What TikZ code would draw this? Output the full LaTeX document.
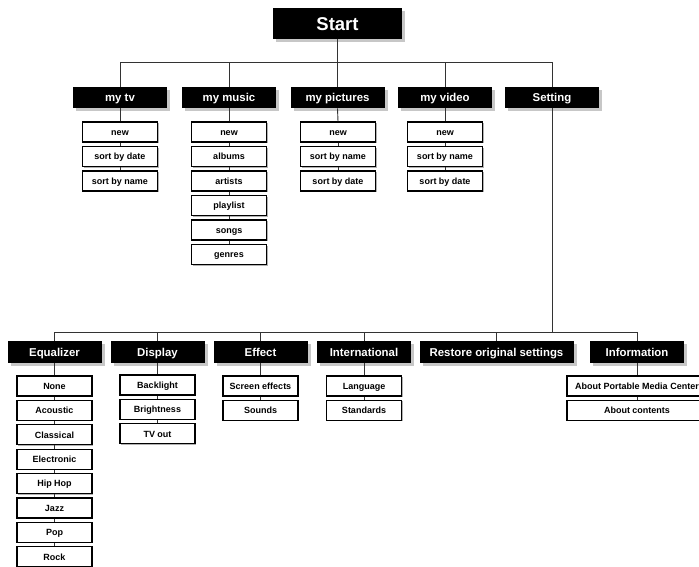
\documentclass[tikz,border=0pt]{standalone}
\usepackage{fontspec}
\setmainfont{Liberation Sans}
\usetikzlibrary{shadows}
\begin{document}
\begin{tikzpicture}[x=1pt,y=-1pt,
  head/.style={fill=black,text=white,inner sep=0pt,minimum width=94pt,minimum height=21.5pt,
    font=\fontsize{11.4}{12}\selectfont\bfseries,text height=8.2pt,text depth=0pt,
    drop shadow={shadow xshift=3pt,shadow yshift=-3pt,fill=black!22,opacity=1}},
  item/.style={draw=black,line width=1.1pt,fill=white,inner sep=0pt,minimum width=75pt,minimum height=20pt,
    font=\fontsize{9}{10}\selectfont\bfseries,text height=6.5pt,text depth=0pt,
    drop shadow={shadow xshift=1pt,shadow yshift=-1pt,fill=black!30,opacity=1}},
  link/.style={draw=black!80,line width=0.9pt}]
\useasboundingbox (0,0) rectangle (699,566);

% root
\node[head,minimum width=129pt,minimum height=31pt,font=\fontsize{18.5}{20}\selectfont\bfseries,
  text height=13.3pt,text depth=0pt] (start) at (337.5,23.5) {Start};
\coordinate (hub) at (337.5,62);

% top level
\node[head] (tv) at (120,97.5) {my tv};
\node[head] (music) at (229,97.5) {my music};
\node[head] (pics) at (337.5,97.5) {my pictures};
\node[head] (video) at (445,97.5) {my video};
\node[head] (set) at (552,97.5) {Setting};

% my tv
\node[item] (tv1) at (120,132) {new};
\node[item] (tv2) at (120,156.5) {sort by date};
\node[item] (tv3) at (120,181) {sort by name};
% my music
\node[item] (mu1) at (229,132) {new};
\node[item] (mu2) at (229,156.5) {albums};
\node[item] (mu3) at (229,181) {artists};
\node[item] (mu4) at (229,205.5) {playlist};
\node[item] (mu5) at (229,230) {songs};
\node[item] (mu6) at (229,254.5) {genres};
% my pictures
\node[item] (pi1) at (338,132) {new};
\node[item] (pi2) at (338,156.5) {sort by name};
\node[item] (pi3) at (338,181) {sort by date};
% my video
\node[item] (vi1) at (445,132) {new};
\node[item] (vi2) at (445,156.5) {sort by name};
\node[item] (vi3) at (445,181) {sort by date};

% settings level
\coordinate (hubb) at (552,332);
\node[head] (eq) at (54.5,352) {Equalizer};
\node[head] (disp) at (157.5,352) {Display};
\node[head] (eff) at (260.5,352) {Effect};
\node[head] (intl) at (364,352) {International};
\node[head,minimum width=154pt] (rest) at (496.5,352) {Restore original settings};
\node[head] (info) at (637,352) {Information};

% equalizer
\node[item] (eq1) at (54.5,386) {None};
\node[item] (eq2) at (54.5,410.4) {Acoustic};
\node[item] (eq3) at (54.5,434.8) {Classical};
\node[item] (eq4) at (54.5,459.2) {Electronic};
\node[item] (eq5) at (54.5,483.6) {Hip Hop};
\node[item] (eq6) at (54.5,508) {Jazz};
\node[item] (eq7) at (54.5,532.4) {Pop};
\node[item] (eq8) at (54.5,556.8) {Rock};
% display
\node[item] (di1) at (157.5,385) {Backlight};
\node[item] (di2) at (157.5,409.4) {Brightness};
\node[item] (di3) at (157.5,433.8) {TV out};
% effect
\node[item] (ef1) at (260.5,386) {Screen effects};
\node[item] (ef2) at (260.5,410.4) {Sounds};
% international
\node[item] (in1) at (364,386) {Language};
\node[item] (in2) at (364,410.4) {Standards};
% information
\node[item,minimum width=140pt] (if1) at (637,386) {About Portable Media Center};
\node[item,minimum width=140pt] (if2) at (637,410.4) {About contents};

% connectors, upper tree
\draw[link] (start.south) -- (hub);
\draw[link] (tv.north) |- (hub);
\draw[link] (music.north) |- (hub);
\draw[link] (pics.north) |- (hub);
\draw[link] (video.north) |- (hub);
\draw[link] (set.north) |- (hub);
\draw[link] (tv.south) -- (tv1.north);
\draw[link] (tv1.south) -- (tv2.north);
\draw[link] (tv2.south) -- (tv3.north);
\draw[link] (music.south) -- (mu1.north);
\draw[link] (mu1.south) -- (mu2.north);
\draw[link] (mu2.south) -- (mu3.north);
\draw[link] (mu3.south) -- (mu4.north);
\draw[link] (mu4.south) -- (mu5.north);
\draw[link] (mu5.south) -- (mu6.north);
\draw[link] (pics.south) -- (pi1.north);
\draw[link] (pi1.south) -- (pi2.north);
\draw[link] (pi2.south) -- (pi3.north);
\draw[link] (video.south) -- (vi1.north);
\draw[link] (vi1.south) -- (vi2.north);
\draw[link] (vi2.south) -- (vi3.north);

% connectors, lower tree
\draw[link] (set.south) -- (hubb);
\draw[link] (eq.north) |- (hubb);
\draw[link] (disp.north) |- (hubb);
\draw[link] (eff.north) |- (hubb);
\draw[link] (intl.north) |- (hubb);
\draw[link] (rest.north) |- (hubb);
\draw[link] (info.north) |- (hubb);
\draw[link] (eq.south) -- (eq1.north);
\draw[link] (eq1.south) -- (eq2.north);
\draw[link] (eq2.south) -- (eq3.north);
\draw[link] (eq3.south) -- (eq4.north);
\draw[link] (eq4.south) -- (eq5.north);
\draw[link] (eq5.south) -- (eq6.north);
\draw[link] (eq6.south) -- (eq7.north);
\draw[link] (eq7.south) -- (eq8.north);
\draw[link] (disp.south) -- (di1.north);
\draw[link] (di1.south) -- (di2.north);
\draw[link] (di2.south) -- (di3.north);
\draw[link] (eff.south) -- (ef1.north);
\draw[link] (ef1.south) -- (ef2.north);
\draw[link] (intl.south) -- (in1.north);
\draw[link] (in1.south) -- (in2.north);
\draw[link] (info.south) -- (if1.north);
\draw[link] (if1.south) -- (if2.north);
\end{tikzpicture}
\end{document}
